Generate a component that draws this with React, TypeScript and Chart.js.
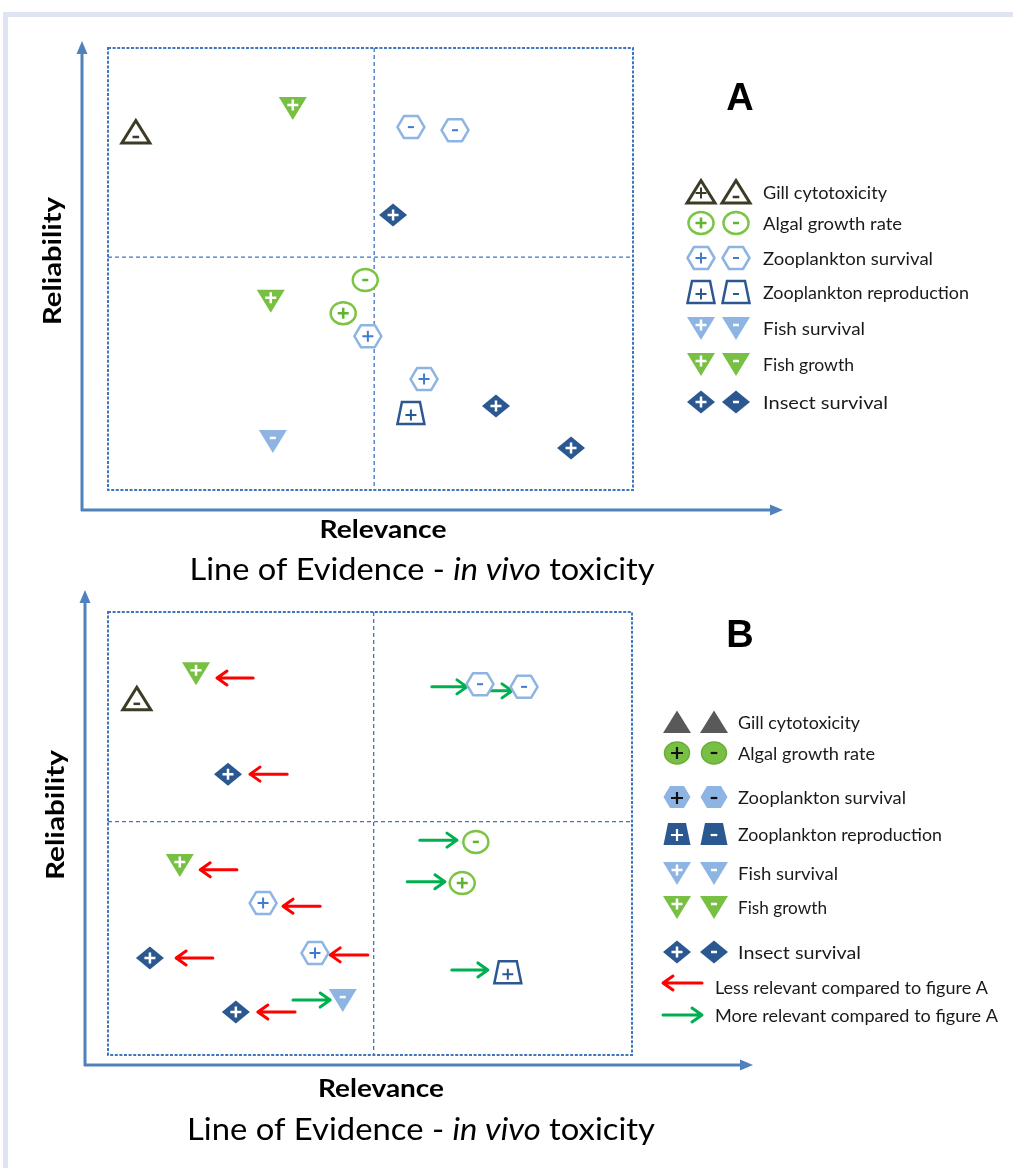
import React, { useEffect, useRef } from 'react';
import { Chart, registerables } from 'chart.js';

Chart.register(...registerables);

// ---------------- DATA ----------------
const SERIES_KEYS = ['gill', 'algal', 'zooSurv', 'zooRepr', 'fishSurv', 'fishGrowth', 'insect'];
const SERIES_NAMES = [
  'Gill cytotoxicity',
  'Algal growth rate',
  'Zooplankton survival',
  'Zooplankton reproduction',
  'Fish survival',
  'Fish growth',
  'Insect survival',
];
const ARROW_LABELS = ['Less relevant compared to figure A', 'More relevant compared to figure A'];

const X_TITLE = 'Relevance';
const Y_TITLE = 'Reliability';
const TITLE_PARTS = ['Line of Evidence - ', 'in vivo', ' toxicity'];

// quadrant dividers (data units, axes run 0..10)
const DIVIDER_X = 5.07;
const DIVIDER_Y = 5.27;

// Panel A
const A_KIND = ['gill', 'fishGrowth', 'zooSurv', 'zooSurv', 'insect', 'algal', 'fishGrowth', 'algal', 'zooSurv', 'zooSurv', 'zooRepr', 'insect', 'insect', 'fishSurv'];
const A_SIGN = ['-', '+', '-', '-', '+', '-', '+', '+', '+', '+', '+', '+', '+', '-'];
const A_X = [0.53, 3.52, 5.77, 6.61, 5.43, 4.9, 3.1, 4.48, 4.95, 6.02, 5.77, 7.39, 8.82, 3.14];
const A_Y = [8.1, 8.64, 8.21, 8.14, 6.22, 4.75, 4.28, 4.0, 3.48, 2.51, 1.74, 1.9, 0.95, 1.11];

// Panel B
const B_KIND = ['fishGrowth', 'gill', 'insect', 'zooSurv', 'zooSurv', 'algal', 'algal', 'fishGrowth', 'zooSurv', 'insect', 'zooSurv', 'fishSurv', 'insect', 'zooRepr'];
const B_SIGN = ['+', '-', '+', '-', '-', '-', '+', '+', '+', '+', '+', '-', '+', '+'];
const B_X = [1.68, 0.55, 2.29, 7.1, 7.94, 7.02, 6.76, 1.37, 2.96, 0.8, 3.95, 4.48, 2.44, 7.63];
const B_Y = [8.62, 8.04, 6.34, 8.37, 8.31, 4.81, 3.88, 4.29, 3.43, 2.19, 2.3, 1.24, 0.97, 1.87];

// Panel B shift arrows (tail x -> head x, at y)
const B_ARROW_FROM = [2.77, 3.42, 6.18, 7.25, 5.95, 5.71, 2.46, 4.05, 2.0, 4.96, 3.53, 3.57, 6.56];
const B_ARROW_TO = [2.08, 2.71, 6.85, 7.71, 6.66, 6.43, 1.76, 3.34, 1.3, 4.24, 4.24, 2.86, 7.25];
const B_ARROW_Y = [8.51, 6.34, 8.31, 8.22, 4.85, 3.91, 4.18, 3.36, 2.19, 2.26, 1.24, 0.97, 1.92];

// ---------------- STYLE ----------------
const C = {
  axis: '#4f81bd',
  dash: '#3f76bd',
  gill: '#3d3b25',
  gillFill: '#595959',
  green: '#7cc444',
  greenFill: '#78c043',
  lightBlue: '#8db4e2',
  hexSign: '#3f7bd4',
  darkBlue: '#2c5891',
  red: '#ff0000',
  arrowGreen: '#00b050',
  text: '#1a1a1a',
};
const FONT = 'Lato, "Open Sans", sans-serif';

function drawSign(ctx: CanvasRenderingContext2D, sign: string, cx: number, cy: number, size: number, color: string, lw: number) {
  ctx.save();
  ctx.strokeStyle = color;
  ctx.lineWidth = lw;
  ctx.lineCap = 'butt';
  ctx.beginPath();
  if (sign === '+') {
    ctx.moveTo(cx - size / 2, cy);
    ctx.lineTo(cx + size / 2, cy);
    ctx.moveTo(cx, cy - size / 2);
    ctx.lineTo(cx, cy + size / 2);
  } else if (sign === '-') {
    const w = size * 0.55;
    ctx.moveTo(cx - w / 2, cy);
    ctx.lineTo(cx + w / 2, cy);
  }
  ctx.stroke();
  ctx.restore();
}

function poly(ctx: CanvasRenderingContext2D, pts: number[][]) {
  ctx.beginPath();
  ctx.moveTo(pts[0][0], pts[0][1]);
  for (let i = 1; i < pts.length; i++) ctx.lineTo(pts[i][0], pts[i][1]);
  ctx.closePath();
}

function drawMarker(ctx: CanvasRenderingContext2D, kind: string, sign: string, cx: number, cy: number, filled = false) {
  ctx.save();
  ctx.lineJoin = 'round';
  if (kind === 'gill') {
    poly(ctx, [[cx, cy - 11.5], [cx + 14, cy + 11], [cx - 14, cy + 11]]);
    if (filled) {
      ctx.fillStyle = C.gillFill;
      ctx.fill();
    } else {
      ctx.fillStyle = '#fff';
      ctx.fill();
      ctx.strokeStyle = C.gill;
      ctx.lineWidth = 3;
      ctx.lineJoin = 'miter';
      ctx.stroke();
      if (sign === '+') drawSign(ctx, '+', cx, cy + 1, 11, C.gill, 2);
      else drawSign(ctx, '-', cx, cy + 5, 12, C.gill, 2.5);
    }
  } else if (kind === 'algal') {
    ctx.beginPath();
    ctx.ellipse(cx, cy, 12.5, 11, 0, 0, Math.PI * 2);
    if (filled) {
      ctx.fillStyle = C.greenFill;
      ctx.fill();
      ctx.strokeStyle = '#69ad38';
      ctx.lineWidth = 1.5;
      ctx.stroke();
      drawSign(ctx, sign, cx, cy, 12, '#111', 2.2);
    } else {
      ctx.fillStyle = '#fff';
      ctx.fill();
      ctx.strokeStyle = C.green;
      ctx.lineWidth = 2.5;
      ctx.stroke();
      drawSign(ctx, sign, cx, cy, 11, '#5fb433', 2.5);
    }
  } else if (kind === 'zooSurv') {
    poly(ctx, [[cx - 13.5, cy], [cx - 7, cy - 11], [cx + 7, cy - 11], [cx + 13.5, cy], [cx + 7, cy + 11], [cx - 7, cy + 11]]);
    if (filled) {
      ctx.fillStyle = C.lightBlue;
      ctx.fill();
      drawSign(ctx, sign, cx, cy + 1, 12, '#111', 2.2);
    } else {
      ctx.fillStyle = '#fff';
      ctx.fill();
      ctx.strokeStyle = C.lightBlue;
      ctx.lineWidth = 2.5;
      ctx.stroke();
      drawSign(ctx, sign, cx, cy, 11, C.hexSign, 2);
    }
  } else if (kind === 'zooRepr') {
    poly(ctx, [[cx - 9, cy - 11], [cx + 9, cy - 11], [cx + 13.5, cy + 11], [cx - 13.5, cy + 11]]);
    if (filled) {
      ctx.fillStyle = C.darkBlue;
      ctx.fill();
      drawSign(ctx, sign, cx, cy + 1, 12, '#fff', 2.2);
    } else {
      ctx.fillStyle = '#fff';
      ctx.fill();
      ctx.strokeStyle = C.darkBlue;
      ctx.lineWidth = 2.5;
      ctx.lineJoin = 'miter';
      ctx.stroke();
      drawSign(ctx, sign, cx, cy + 2, 11, C.darkBlue, 2);
    }
  } else if (kind === 'fishSurv' || kind === 'fishGrowth') {
    poly(ctx, [[cx - 14, cy - 11], [cx + 14, cy - 11], [cx, cy + 12]]);
    ctx.fillStyle = kind === 'fishSurv' ? C.lightBlue : C.greenFill;
    ctx.fill();
    drawSign(ctx, sign, cx, cy - 3, 11, '#fff', 2.5);
  } else if (kind === 'insect') {
    poly(ctx, [[cx, cy - 11.5], [cx + 14, cy], [cx, cy + 11.5], [cx - 14, cy]]);
    ctx.fillStyle = C.darkBlue;
    ctx.fill();
    drawSign(ctx, sign, cx, cy, 11, '#fff', 2.5);
  }
  ctx.restore();
}

function drawArrow(ctx: CanvasRenderingContext2D, x0: number, x1: number, y: number, color: string) {
  const dir = x1 > x0 ? 1 : -1;
  ctx.save();
  ctx.strokeStyle = color;
  ctx.lineWidth = 3;
  ctx.lineCap = 'round';
  ctx.lineJoin = 'round';
  ctx.beginPath();
  ctx.moveTo(x0, y);
  ctx.lineTo(x1, y);
  ctx.moveTo(x1 - dir * 10, y - 7);
  ctx.lineTo(x1, y);
  ctx.lineTo(x1 - dir * 10, y + 7);
  ctx.stroke();
  ctx.restore();
}

// draw text segments with a given (taller) font size, squeezed horizontally to a target width
function drawCondensed(
  ctx: CanvasRenderingContext2D,
  parts: { t: string; style: string; weight: string }[],
  cx: number,
  cy: number,
  width: number,
  size: number,
  align: 'center' | 'left' = 'center',
) {
  let total = 0;
  parts.forEach((p) => {
    ctx.font = `${p.style} ${p.weight} ${size}px ${FONT}`;
    total += ctx.measureText(p.t).width;
  });
  const sx = width / total;
  ctx.save();
  ctx.translate(align === 'center' ? cx - width / 2 : cx, cy);
  ctx.scale(sx, 1);
  ctx.textAlign = 'left';
  ctx.textBaseline = 'middle';
  let x = 0;
  parts.forEach((p) => {
    ctx.font = `${p.style} ${p.weight} ${size}px ${FONT}`;
    ctx.fillText(p.t, x, 0);
    x += ctx.measureText(p.t).width;
  });
  ctx.restore();
}

type PanelCfg = {
  id: string;
  height: number;
  padding: { left: number; top: number; right: number; bottom: number };
  yAxis: { x: number; top: number; bottom: number };
  xAxis: { y: number; left: number; right: number };
  kinds: string[];
  signs: string[];
  xs: number[];
  ys: number[];
  arrows: boolean;
  legend: { m1: number; m2: number; tx: number; rows: number[]; filled: boolean; arrowRows?: number[]; arrowX0?: number; arrowX1?: number; arrowTx?: number; arrowLen?: number[] };
  letter: { x: number; y: number };
  yTitle: { x: number; y: number; len: number };
  xTitle: { x: number; y: number; len: number };
  title: { x: number; y: number; len: number };
};

const PANEL_A: PanelCfg = {
  id: 'A',
  height: 588,
  padding: { left: 108, top: 48, right: 1013 - 633, bottom: 588 - 490 },
  yAxis: { x: 82, top: 41, bottom: 511 },
  xAxis: { y: 510, left: 81, right: 783 },
  kinds: A_KIND,
  signs: A_SIGN,
  xs: A_X,
  ys: A_Y,
  arrows: false,
  legend: { m1: 701, m2: 736, tx: 763, rows: [192, 223, 258, 292, 328, 364, 402], filled: false },
  letter: { x: 740, y: 100 },
  yTitle: { x: 53, y: 261, len: 128 },
  xTitle: { x: 383, y: 530, len: 127 },
  title: { x: 422, y: 570, len: 465 },
};

const B_TOP = 588;
const PANEL_B: PanelCfg = {
  id: 'B',
  height: 1168 - B_TOP,
  padding: { left: 108, top: 612 - B_TOP, right: 1013 - 632, bottom: 1168 - 1055 },
  yAxis: { x: 85, top: 590 - B_TOP, bottom: 1066 - B_TOP },
  xAxis: { y: 1065 - B_TOP, left: 84, right: 753 },
  kinds: B_KIND,
  signs: B_SIGN,
  xs: B_X,
  ys: B_Y,
  arrows: true,
  legend: {
    m1: 677,
    m2: 714,
    tx: 738,
    rows: [722, 753, 797, 834, 873, 907, 952].map((v) => v - B_TOP),
    filled: true,
    arrowRows: [986 - B_TOP, 1014 - B_TOP],
    arrowX0: 663,
    arrowX1: 702,
    arrowTx: 715,
    arrowLen: [273, 283],
  },
  letter: { x: 740, y: 637 - B_TOP },
  yTitle: { x: 56, y: 815 - B_TOP, len: 130 },
  xTitle: { x: 381, y: 1089 - B_TOP, len: 126 },
  title: { x: 421, y: 1130 - B_TOP, len: 468 },
};

const LEGEND_WIDTHS = [124, 139, 170, 206, 102, 91, 125];

function makePlugin(cfg: PanelCfg) {
  return {
    id: 'quadrant' + cfg.id,
    beforeDatasetsDraw(chart: any) {
      const ctx: CanvasRenderingContext2D = chart.ctx;
      const { left, right, top, bottom } = chart.chartArea;
      const xs = chart.scales.x;
      const ys = chart.scales.y;
      ctx.save();
      // axes
      ctx.strokeStyle = C.axis;
      ctx.fillStyle = C.axis;
      ctx.lineWidth = 3;
      ctx.beginPath();
      ctx.moveTo(cfg.yAxis.x, cfg.yAxis.bottom);
      ctx.lineTo(cfg.yAxis.x, cfg.yAxis.top + 10);
      ctx.moveTo(cfg.xAxis.left, cfg.xAxis.y);
      ctx.lineTo(cfg.xAxis.right - 10, cfg.xAxis.y);
      ctx.stroke();
      poly(ctx, [[cfg.yAxis.x, cfg.yAxis.top], [cfg.yAxis.x + 5.5, cfg.yAxis.top + 13], [cfg.yAxis.x - 5.5, cfg.yAxis.top + 13]]);
      ctx.fill();
      poly(ctx, [[cfg.xAxis.right, cfg.xAxis.y], [cfg.xAxis.right - 13, cfg.xAxis.y - 5.5], [cfg.xAxis.right - 13, cfg.xAxis.y + 5.5]]);
      ctx.fill();
      // dashed box
      ctx.strokeStyle = C.dash;
      ctx.lineWidth = 2;
      ctx.setLineDash([3, 1.6]);
      ctx.strokeRect(left, top, right - left, bottom - top);
      // dividers
      ctx.lineWidth = 1.3;
      ctx.setLineDash([4, 3]);
      const mx = xs.getPixelForValue(DIVIDER_X);
      const my = ys.getPixelForValue(DIVIDER_Y);
      ctx.beginPath();
      ctx.moveTo(mx, top);
      ctx.lineTo(mx, bottom);
      ctx.moveTo(left, my);
      ctx.lineTo(right, my);
      ctx.stroke();
      ctx.restore();
    },
    afterDatasetsDraw(chart: any) {
      const ctx: CanvasRenderingContext2D = chart.ctx;
      const xs = chart.scales.x;
      const ys = chart.scales.y;
      // arrows
      if (cfg.arrows) {
        for (let i = 0; i < B_ARROW_FROM.length; i++) {
          const x0 = xs.getPixelForValue(B_ARROW_FROM[i]);
          const x1 = xs.getPixelForValue(B_ARROW_TO[i]);
          const y = ys.getPixelForValue(B_ARROW_Y[i]);
          drawArrow(ctx, x0, x1, y, x1 < x0 ? C.red : C.arrowGreen);
        }
      }
      // markers at the library's point positions
      const meta = chart.getDatasetMeta(0);
      meta.data.forEach((el: any, i: number) => {
        drawMarker(ctx, cfg.kinds[i], cfg.signs[i], el.x, el.y, false);
      });

      // legend
      ctx.save();
      const lg = cfg.legend;
      ctx.fillStyle = C.text;
      SERIES_KEYS.forEach((k, i) => {
        const y = lg.rows[i];
        drawMarker(ctx, k, '+', lg.m1, y, lg.filled);
        drawMarker(ctx, k, '-', lg.m2, y, lg.filled);
        ctx.fillStyle = C.text;
        drawCondensed(ctx, [{ t: SERIES_NAMES[i], style: 'normal', weight: 'normal' }], lg.tx, y + 1, LEGEND_WIDTHS[i] - (lg.filled ? 2 : 0), 17.5, 'left');
      });
      if (lg.arrowRows) {
        ARROW_LABELS.forEach((t, i) => {
          const y = lg.arrowRows![i];
          if (i === 0) drawArrow(ctx, lg.arrowX1!, lg.arrowX0!, y - 3, C.red);
          else drawArrow(ctx, lg.arrowX0!, lg.arrowX1!, y + 1, C.arrowGreen);
          ctx.fillStyle = C.text;
          drawCondensed(ctx, [{ t, style: 'normal', weight: 'normal' }], lg.arrowTx!, y + 2, lg.arrowLen![i], 17.5, 'left');
        });
      }
      ctx.restore();

      // titles
      ctx.save();
      ctx.fillStyle = '#000';
      ctx.textAlign = 'center';
      ctx.textBaseline = 'middle';
      ctx.font = `bold 38px "Liberation Sans", Arial, sans-serif`;
      ctx.fillText(cfg.id, cfg.letter.x, cfg.letter.y);

      ctx.save();
      ctx.translate(cfg.yTitle.x, cfg.yTitle.y);
      ctx.rotate(-Math.PI / 2);
      drawCondensed(ctx, [{ t: Y_TITLE, style: 'normal', weight: 'bold' }], 0, 0, cfg.yTitle.len, 25);
      ctx.restore();

      drawCondensed(ctx, [{ t: X_TITLE, style: 'normal', weight: 'bold' }], cfg.xTitle.x, cfg.xTitle.y, cfg.xTitle.len, 25);

      drawCondensed(
        ctx,
        [
          { t: TITLE_PARTS[0], style: 'normal', weight: 'normal' },
          { t: TITLE_PARTS[1], style: 'italic', weight: 'normal' },
          { t: TITLE_PARTS[2], style: 'normal', weight: 'normal' },
        ],
        cfg.title.x,
        cfg.title.y,
        cfg.title.len,
        31,
      );
      ctx.restore();
    },
  };
}

function Panel({ cfg }: { cfg: PanelCfg }) {
  const ref = useRef<HTMLCanvasElement | null>(null);
  useEffect(() => {
    if (!ref.current) return;
    const chart = new Chart(ref.current, {
      type: 'scatter',
      data: {
        datasets: [
          {
            label: 'Studies ' + cfg.id,
            data: cfg.xs.map((x, i) => ({ x, y: cfg.ys[i] })),
            pointRadius: 0,
            pointHoverRadius: 0,
          },
        ],
      },
      options: {
        animation: false,
        responsive: false,
        events: [],
        layout: { padding: cfg.padding },
        scales: {
          x: { type: 'linear', min: 0, max: 10, display: false },
          y: { type: 'linear', min: 0, max: 10, display: false },
        },
        plugins: { legend: { display: false }, tooltip: { enabled: false }, title: { display: false } },
      },
      plugins: [makePlugin(cfg)],
    });
    return () => chart.destroy();
  }, [cfg]);
  return <canvas ref={ref} width={1013} height={cfg.height} style={{ display: 'block', width: 1013, height: cfg.height }} />;
}

export default function App() {
  return (
    <div style={{ position: 'absolute', left: 0, top: 0, width: 1013, height: 1168, overflow: 'hidden', background: '#fff' }}>
      <div
        style={{
          position: 'absolute',
          left: 3,
          top: 12,
          width: 1100,
          height: 1300,
          borderLeft: '5px solid #dfe4f2',
          borderTop: '5px solid #dfe4f2',
        }}
      />
      <div style={{ position: 'absolute', left: 0, top: 0 }}>
        <Panel cfg={PANEL_A} />
      </div>
      <div style={{ position: 'absolute', left: 0, top: B_TOP }}>
        <Panel cfg={PANEL_B} />
      </div>
    </div>
  );
}
